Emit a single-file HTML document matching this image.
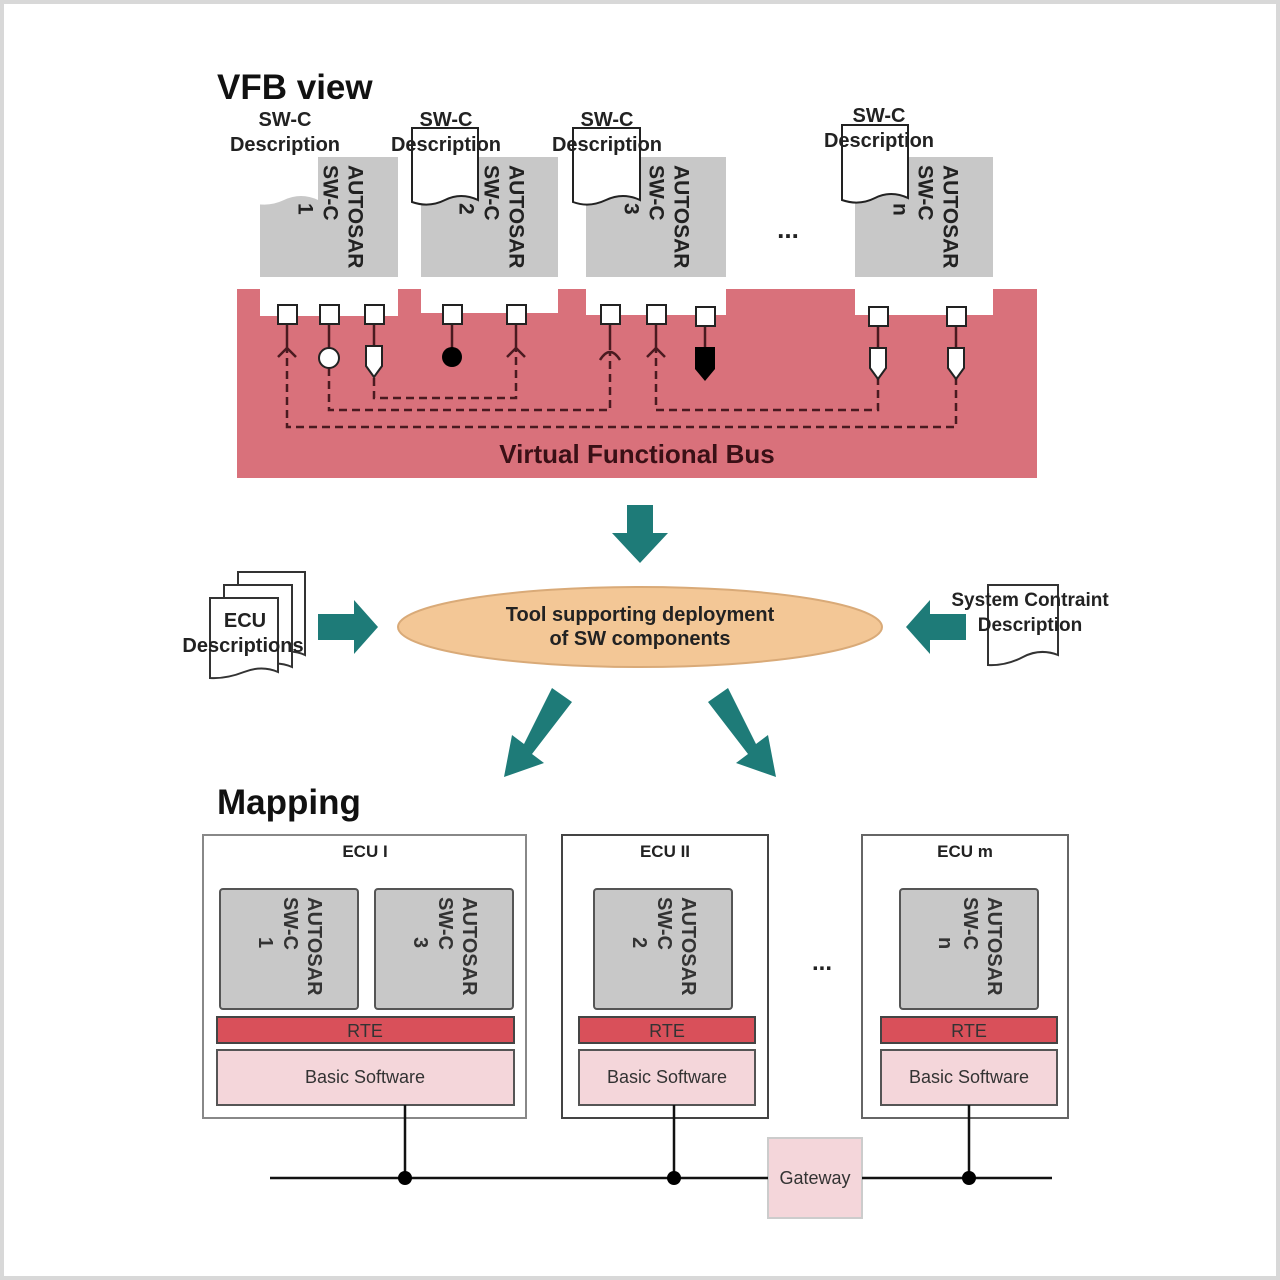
<!DOCTYPE html>
<html><head><meta charset="utf-8"><style>
html,body{margin:0;padding:0;background:#fff}
svg{display:block}
text{font-family:"Liberation Sans",sans-serif}
</style></head><body>
<svg width="1280" height="1280" viewBox="0 0 1280 1280" xmlns="http://www.w3.org/2000/svg">
<rect x="2" y="2" width="1276" height="1276" fill="#fff" stroke="#d8d8d8" stroke-width="4"/>
<text x="217" y="99" font-size="35" font-weight="bold" fill="#111">VFB view</text>

<!-- bus -->
<rect x="237" y="289" width="800" height="189" fill="#d9717b"/>

<!-- components -->
<g fill="#c8c8c8">
<rect x="260" y="157" width="138" height="120"/>
<rect x="421" y="157" width="137" height="120"/>
<rect x="586" y="157" width="140" height="120"/>
<rect x="855" y="157" width="138" height="120"/>
</g>
<g fill="#fff">
<rect x="260" y="277" width="138" height="39"/>
<rect x="421" y="277" width="137" height="36"/>
<rect x="586" y="277" width="140" height="38"/>
<rect x="855" y="277" width="138" height="38"/>
</g>
<g font-size="21" font-weight="bold" fill="#222" dominant-baseline="central">
<text transform="translate(355,165) rotate(90)">AUTOSAR</text>
<text transform="translate(330,165) rotate(90)">SW-C</text>
<text transform="translate(305,203) rotate(90)">1</text>
<text transform="translate(516,165) rotate(90)">AUTOSAR</text>
<text transform="translate(491,165) rotate(90)">SW-C</text>
<text transform="translate(466,203) rotate(90)">2</text>
<text transform="translate(681,165) rotate(90)">AUTOSAR</text>
<text transform="translate(656,165) rotate(90)">SW-C</text>
<text transform="translate(631,203) rotate(90)">3</text>
<text transform="translate(950,165) rotate(90)">AUTOSAR</text>
<text transform="translate(925,165) rotate(90)">SW-C</text>
<text transform="translate(900,203) rotate(90)">n</text>
</g>

<!-- documents -->
<path d="M250,128 H318 V200 Q301,192 284,200 T250,202 Z" fill="#fff"/>
<path d="M412,128 H478 V200 Q461,192 445,200 T412,202 Z" fill="#fff" stroke="#222" stroke-width="2"/>
<path d="M573,128 H640 V200 Q623,192 606,200 T573,202 Z" fill="#fff" stroke="#222" stroke-width="2"/>
<path d="M842,125 H908 V198 Q891,190 875,198 T842,200 Z" fill="#fff" stroke="#222" stroke-width="2"/>
<g font-size="20" font-weight="bold" fill="#222" text-anchor="middle">
<text x="285" y="126">SW-C</text><text x="285" y="151">Description</text>
<text x="446" y="126">SW-C</text><text x="446" y="151">Description</text>
<text x="607" y="126">SW-C</text><text x="607" y="151">Description</text>
<text x="879" y="122">SW-C</text><text x="879" y="147">Description</text>
</g>
<text x="788" y="238" font-size="26" font-weight="bold" text-anchor="middle" fill="#222">...</text>

<!-- port stems -->
<g stroke="#4a1a20" stroke-width="2.5" fill="none">
<line x1="287" y1="325" x2="287" y2="345"/>
<line x1="329" y1="325" x2="329" y2="350"/>
<line x1="374" y1="325" x2="374" y2="345"/>
<line x1="452" y1="325" x2="452" y2="350"/>
<line x1="516" y1="325" x2="516" y2="345"/>
<line x1="610" y1="325" x2="610" y2="350"/>
<line x1="656" y1="325" x2="656" y2="345"/>
<line x1="705" y1="325" x2="705" y2="348"/>
<line x1="878" y1="325" x2="878" y2="348"/>
<line x1="956" y1="325" x2="956" y2="348"/>
</g>
<!-- dashed connections -->
<g stroke="#4a1a20" stroke-width="2.5" fill="none" stroke-dasharray="8,5">
<path d="M287,345 V427 H956 V378"/>
<path d="M329,368 V410 H610 V352"/>
<path d="M374,378 V398 H516 V345"/>
<path d="M656,345 V410 H878 V378"/>
</g>
<!-- require arrows -->
<g stroke="#4a1a20" stroke-width="2.5" fill="none">
<path d="M278,357 L287,348 L296,357"/>
<path d="M507,357 L516,348 L525,357"/>
<path d="M647,357 L656,348 L665,357"/>
<path d="M600,360 Q610,344 620,360"/>
</g>
<!-- ports -->
<g fill="#fff" stroke="#222" stroke-width="2">
<rect x="278" y="305" width="19" height="19"/>
<rect x="320" y="305" width="19" height="19"/>
<rect x="365" y="305" width="19" height="19"/>
<rect x="443" y="305" width="19" height="19"/>
<rect x="507" y="305" width="19" height="19"/>
<rect x="601" y="305" width="19" height="19"/>
<rect x="647" y="305" width="19" height="19"/>
<rect x="696" y="307" width="19" height="19"/>
<rect x="869" y="307" width="19" height="19"/>
<rect x="947" y="307" width="19" height="19"/>
<circle cx="329" cy="358" r="10"/>
<path d="M366,346 h16 v20 l-8,11 l-8,-11 z"/>
<path d="M870,348 h16 v20 l-8,11 l-8,-11 z"/>
<path d="M948,348 h16 v20 l-8,11 l-8,-11 z"/>
</g>
<circle cx="452" cy="357" r="10" fill="#000"/>
<path d="M695,347 h20 v22 l-10,12 l-10,-12 z" fill="#000"/>
<text x="637" y="463" font-size="26" font-weight="bold" text-anchor="middle" fill="#3a1016">Virtual Functional Bus</text>

<!-- arrows -->
<g fill="#1e7b78">
<path d="M627,505 h26 v28 h15 l-28,30 l-28,-30 h15 z"/>
<path d="M318,614 h36 v-14 l24,27 l-24,27 v-14 h-36 z"/>
<path d="M966,614 h-36 v-14 l-24,27 l24,27 v-14 h36 z"/>
<path d="M552,688 l20,14 l-40,52 l12,9 l-40,14 l8,-42 l12,9 z"/>
<path d="M728,688 l-20,14 l40,52 l-12,9 l40,14 l-8,-42 l-12,9 z"/>
</g>
<ellipse cx="640" cy="627" rx="242" ry="40" fill="#f3c796" stroke="#d9aa78" stroke-width="2"/>
<text x="640" y="621" font-size="20" font-weight="bold" text-anchor="middle" fill="#222">Tool supporting deployment</text>
<text x="640" y="645" font-size="20" font-weight="bold" text-anchor="middle" fill="#222">of SW components</text>

<!-- ECU docs -->
<g fill="#fff" stroke="#333" stroke-width="2">
<path d="M238,572 H305 V655 Q290,648 272,655 T238,658 Z"/>
<path d="M224,585 H292 V667 Q276,660 258,667 T224,670 Z"/>
<path d="M210,598 H278 V672 Q262,665 244,672 T210,678 Z"/>
</g>
<text x="245" y="627" font-size="20" font-weight="bold" text-anchor="middle" fill="#222">ECU</text>
<text x="243" y="652" font-size="20" font-weight="bold" text-anchor="middle" fill="#222">Descriptions</text>
<path d="M988,585 H1058 V655 Q1040,648 1023,657 T988,665 Z" fill="#fff" stroke="#333" stroke-width="2"/>
<text x="1030" y="606" font-size="19" font-weight="bold" text-anchor="middle" fill="#222">System Contraint</text>
<text x="1030" y="631" font-size="19" font-weight="bold" text-anchor="middle" fill="#222">Description</text>

<text x="217" y="814" font-size="35" font-weight="bold" fill="#111">Mapping</text>

<!-- ECU boxes -->
<g fill="#fff" stroke="#888" stroke-width="2">
<rect x="203" y="835" width="323" height="283"/>
<rect x="562" y="835" width="206" height="283" stroke="#444"/>
<rect x="862" y="835" width="206" height="283" stroke="#666"/>
</g>
<g font-size="17" font-weight="bold" fill="#222" text-anchor="middle">
<text x="365" y="857">ECU I</text>
<text x="665" y="857">ECU II</text>
<text x="965" y="857">ECU m</text>
</g>
<g fill="#c8c8c8" stroke="#555" stroke-width="2">
<rect x="220" y="889" width="138" height="120" rx="3"/>
<rect x="375" y="889" width="138" height="120" rx="3"/>
<rect x="594" y="889" width="138" height="120" rx="3"/>
<rect x="900" y="889" width="138" height="120" rx="3"/>
</g>
<g font-size="20" font-weight="bold" fill="#333" dominant-baseline="central">
<text transform="translate(314,897) rotate(90)">AUTOSAR</text>
<text transform="translate(290,897) rotate(90)">SW-C</text>
<text transform="translate(265,937) rotate(90)">1</text>
<text transform="translate(469,897) rotate(90)">AUTOSAR</text>
<text transform="translate(445,897) rotate(90)">SW-C</text>
<text transform="translate(420,937) rotate(90)">3</text>
<text transform="translate(688,897) rotate(90)">AUTOSAR</text>
<text transform="translate(664,897) rotate(90)">SW-C</text>
<text transform="translate(639,937) rotate(90)">2</text>
<text transform="translate(994,897) rotate(90)">AUTOSAR</text>
<text transform="translate(970,897) rotate(90)">SW-C</text>
<text transform="translate(945,937) rotate(90)">n</text>
</g>
<g fill="#d9505a" stroke="#444" stroke-width="2">
<rect x="217" y="1017" width="297" height="26"/>
<rect x="579" y="1017" width="176" height="26"/>
<rect x="881" y="1017" width="176" height="26"/>
</g>
<g fill="#f4d6da" stroke="#555" stroke-width="2">
<rect x="217" y="1050" width="297" height="55"/>
<rect x="579" y="1050" width="176" height="55"/>
<rect x="881" y="1050" width="176" height="55"/>
<rect x="768" y="1138" width="94" height="80" stroke="#ccc"/>
</g>
<g font-size="18" fill="#333" text-anchor="middle">
<text x="365" y="1037">RTE</text><text x="667" y="1037">RTE</text><text x="969" y="1037">RTE</text>
<text x="365" y="1083">Basic Software</text><text x="667" y="1083">Basic Software</text><text x="969" y="1083">Basic Software</text>
<text x="815" y="1184">Gateway</text>
</g>
<g stroke="#111" stroke-width="2.5">
<line x1="270" y1="1178" x2="768" y2="1178"/>
<line x1="862" y1="1178" x2="1052" y2="1178"/>
<line x1="405" y1="1105" x2="405" y2="1178"/>
<line x1="674" y1="1105" x2="674" y2="1178"/>
<line x1="969" y1="1105" x2="969" y2="1178"/>
</g>
<g fill="#000">
<circle cx="405" cy="1178" r="7"/><circle cx="674" cy="1178" r="7"/><circle cx="969" cy="1178" r="7"/>
</g>
<text x="822" y="970" font-size="24" font-weight="bold" text-anchor="middle" fill="#222">...</text>
</svg>
</body></html>
